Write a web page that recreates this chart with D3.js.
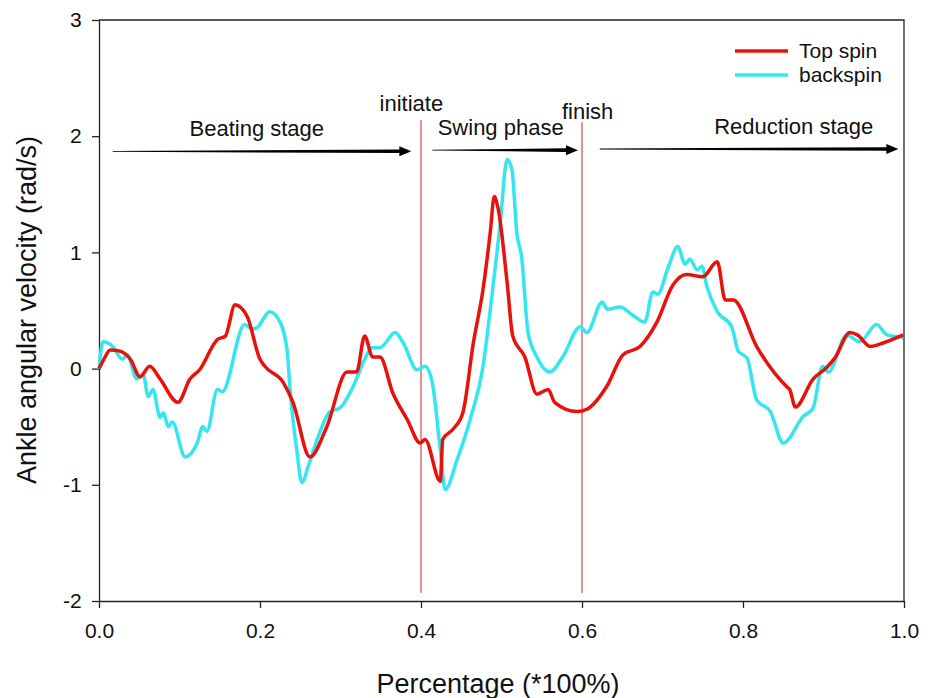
<!DOCTYPE html>
<html>
<head>
<meta charset="utf-8">
<script src="https://cdn.jsdelivr.net/npm/d3@7/dist/d3.min.js"></script>
<style>
  body { margin: 0; background: #fff; }
  text { font-family: "Liberation Sans", Arial, sans-serif; fill: #111; }
</style>
</head>
<body>
<svg id="chart" width="935" height="698"></svg>
<script>
// data
var topX = [0, 0.006, 0.014, 0.026, 0.039, 0.051, 0.063, 0.076, 0.098, 0.113, 0.125, 0.147, 0.157, 0.169, 0.184, 0.2, 0.206, 0.229, 0.241, 0.262, 0.283, 0.308, 0.32, 0.33, 0.34, 0.349, 0.365, 0.383, 0.399, 0.405, 0.424, 0.427, 0.44, 0.452, 0.465, 0.477, 0.486, 0.491, 0.496, 0.507, 0.514, 0.529, 0.544, 0.558, 0.566, 0.594, 0.606, 0.631, 0.651, 0.672, 0.693, 0.713, 0.73, 0.75, 0.768, 0.778, 0.788, 0.817, 0.855, 0.858, 0.865, 0.887, 0.904, 0.914, 0.933, 0.942, 0.958, 0.974, 0.999];
var topY = [0, 0.08, 0.16, 0.15, 0.08, -0.07, 0.02, -0.09, -0.29, -0.09, -0.01, 0.25, 0.28, 0.55, 0.45, 0.08, 0.02, -0.12, -0.29, -0.76, -0.5, -0.03, -0.03, 0.28, 0.1, 0.1, -0.21, -0.44, -0.64, -0.61, -0.97, -0.61, -0.52, -0.38, 0.22, 0.68, 1.17, 1.48, 1.37, 0.74, 0.28, 0.1, -0.22, -0.18, -0.29, -0.37, -0.35, -0.15, 0.12, 0.19, 0.4, 0.72, 0.81, 0.79, 0.92, 0.59, 0.59, 0.19, -0.16, -0.18, -0.33, -0.09, 0.01, 0.09, 0.31, 0.29, 0.19, 0.22, 0.29];

var backX = [0, 0.005, 0.017, 0.029, 0.035, 0.047, 0.055, 0.061, 0.067, 0.076, 0.08, 0.086, 0.091, 0.107, 0.122, 0.129, 0.134, 0.147, 0.153, 0.181, 0.19, 0.196, 0.212, 0.225, 0.234, 0.237, 0.246, 0.252, 0.26, 0.271, 0.287, 0.299, 0.316, 0.33, 0.339, 0.349, 0.368, 0.378, 0.395, 0.405, 0.414, 0.424, 0.43, 0.445, 0.461, 0.477, 0.489, 0.498, 0.507, 0.513, 0.519, 0.525, 0.533, 0.544, 0.56, 0.576, 0.598, 0.606, 0.625, 0.632, 0.647, 0.663, 0.678, 0.688, 0.694, 0.707, 0.719, 0.728, 0.734, 0.743, 0.749, 0.755, 0.768, 0.786, 0.794, 0.805, 0.817, 0.834, 0.85, 0.875, 0.887, 0.899, 0.906, 0.929, 0.945, 0.966, 0.979, 0.999];
var backY = [0, 0.23, 0.19, 0.08, 0.12, -0.09, -0.05, -0.24, -0.18, -0.42, -0.38, -0.5, -0.46, -0.76, -0.64, -0.5, -0.54, -0.18, -0.2, 0.38, 0.34, 0.35, 0.49, 0.4, 0.14, -0.15, -0.72, -0.98, -0.84, -0.61, -0.37, -0.34, -0.15, 0.08, 0.18, 0.18, 0.31, 0.22, -0.01, 0.02, -0.12, -0.7, -1.04, -0.78, -0.44, 0.02, 0.68, 1.22, 1.8, 1.71, 1.17, 0.96, 0.31, 0.1, -0.03, 0.1, 0.36, 0.31, 0.57, 0.51, 0.53, 0.46, 0.4, 0.66, 0.64, 0.87, 1.05, 0.9, 0.94, 0.85, 0.88, 0.71, 0.49, 0.36, 0.15, 0.09, -0.27, -0.37, -0.64, -0.41, -0.34, 0.02, -0.03, 0.29, 0.23, 0.38, 0.29, 0.27];

var xTicks = [0, 0.2, 0.4, 0.6, 0.8, 1.0];
var yTicks = [-2, -1, 0, 1, 2, 3];

// phase markers and stage arrows
var markers = [{x: 0.4, label: 'initiate', top: 2.14, labelY: 2.22, labelX: 0.388}, {x: 0.6, label: 'finish', top: 2.12, labelY: 2.15, labelX: 0.607}];
var stages = [
  {label: 'Beating stage', x0: 0.017, x1: 0.388, y: 1.87, labelX: 0.196},
  {label: 'Swing phase', x0: 0.414, x1: 0.595, y: 1.88, labelX: 0.499},
  {label: 'Reduction stage', x0: 0.622, x1: 0.993, y: 1.89, labelX: 0.863}
];

var svg = d3.select('#chart');
var margin = {top: 20, right: 31, bottom: 97, left: 99};
var width = 935 - margin.left - margin.right,
    height = 698 - margin.top - margin.bottom;

var g = svg.append('g').attr('transform', 'translate(' + margin.left + ',' + margin.top + ')');

var x = d3.scaleLinear().domain([0, 1]).range([0, width]);
var y = d3.scaleLinear().domain([-2, 3]).range([height, 0]);

// frame top/right
g.append('path')
  .attr('d', 'M0,0H' + width + 'V' + height)
  .attr('fill', 'none').attr('stroke', '#222').attr('stroke-width', 1.3);

// axes
var xAxis = g.append('g').attr('transform', 'translate(0,' + height + ')')
  .call(d3.axisBottom(x).tickValues(xTicks).tickFormat(d3.format('.1f')).tickSize(7).tickSizeOuter(0));
var yAxis = g.append('g')
  .call(d3.axisLeft(y).tickValues(yTicks).tickFormat(function (d) { return String(d); }).tickSize(7).tickSizeOuter(0));
[xAxis, yAxis].forEach(function (a) {
  a.select('.domain').attr('stroke', '#222').attr('stroke-width', 1.3);
  a.selectAll('.tick line').attr('stroke', '#222').attr('stroke-width', 1.3);
  a.selectAll('text').style('font-family', '"Liberation Sans", Arial, sans-serif').style('font-size', '21px').attr('fill', '#111');
});
xAxis.selectAll('text').attr('dy', '1.3em');
yAxis.selectAll('text').attr('dx', '-0.35em');

// axis titles
svg.append('text')
  .attr('x', 498).attr('y', 693)
  .attr('text-anchor', 'middle').style('font-size', '27px')
  .text('Percentage (*100%)');
svg.append('text')
  .attr('transform', 'translate(36,310) rotate(-90)')
  .attr('text-anchor', 'middle').style('font-size', '27px')
  .text('Ankle angular velocity (rad/s)');

// phase lines
g.selectAll('.marker').data(markers).enter().append('line')
  .attr('class', 'marker')
  .attr('x1', function (d) { return x(d.x); }).attr('x2', function (d) { return x(d.x); })
  .attr('y1', function (d) { return y(d.top); }).attr('y2', y(-1.93))
  .attr('stroke', '#cc2222').attr('stroke-width', 1);
g.selectAll('.markerLabel').data(markers).enter().append('text')
  .attr('x', function (d) { return x(d.labelX); })
  .attr('y', function (d) { return y(d.labelY); })
  .attr('text-anchor', 'middle').style('font-size', '22px')
  .text(function (d) { return d.label; });

// stage arrows: tapered shaft with a head
g.selectAll('.stage').data(stages).enter().append('path')
  .attr('class', 'stage')
  .attr('fill', '#000')
  .attr('d', function (d) {
    var a = x(d.x0), b = x(d.x1), c = y(d.y), h = 12;
    return 'M' + a + ',' + (c - 0.4) + 'L' + (b - h) + ',' + (c - 1.8) +
      'L' + (b - h) + ',' + (c - 5) + 'L' + b + ',' + c + 'L' + (b - h) + ',' + (c + 5) +
      'L' + (b - h) + ',' + (c + 1.8) + 'L' + a + ',' + (c + 0.4) + 'Z';
  });
g.selectAll('.stageLabel').data(stages).enter().append('text')
  .attr('x', function (d) { return x(d.labelX); })
  .attr('y', function (d) { return y(d.y) - 15; })
  .attr('text-anchor', 'middle').style('font-size', '22px')
  .text(function (d) { return d.label; });

// curves
var line = d3.line()
  .x(function (d) { return x(d[0]); })
  .y(function (d) { return y(d[1]); })
  .curve(d3.curveMonotoneX);

var series = [
  {name: 'Top spin', color: '#e8120c', pts: d3.zip(topX, topY)},
  {name: 'backspin', color: '#33e6f0', pts: d3.zip(backX, backY)}
];

g.selectAll('.series').data([series[1], series[0]]).enter().append('path')
  .attr('class', 'series')
  .attr('d', function (d) { return line(d.pts); })
  .attr('fill', 'none')
  .attr('stroke', function (d) { return d.color; })
  .attr('stroke-width', 3.5)
  .attr('stroke-linejoin', 'round');

// legend
var legend = svg.append('g').attr('transform', 'translate(735,51)');
legend.selectAll('line').data(series).enter().append('line')
  .attr('x1', 0).attr('x2', 53)
  .attr('y1', function (d, i) { return i * 24; }).attr('y2', function (d, i) { return i * 24; })
  .attr('stroke', function (d) { return d.color; }).attr('stroke-width', 3.5);
legend.selectAll('text').data(series).enter().append('text')
  .attr('x', 64).attr('y', function (d, i) { return i * 24 + 7; })
  .style('font-size', '21px')
  .text(function (d) { return d.name; });
</script>
</body>
</html>
